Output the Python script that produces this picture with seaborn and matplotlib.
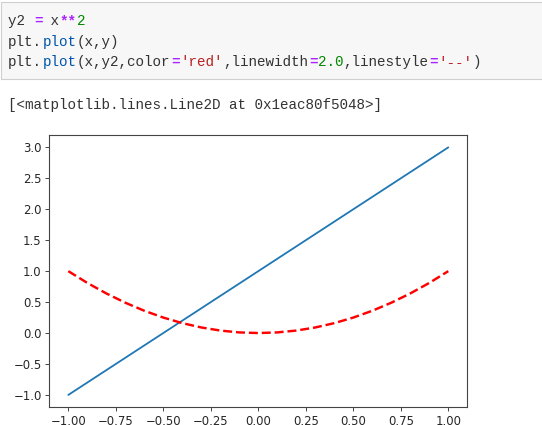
import matplotlib
matplotlib.use("Agg")
import matplotlib.pyplot as plt
import seaborn as sns
from matplotlib.patches import Rectangle

# ---- data ----
x_line = [-1.0, 1.0]
y_line = [-1.0, 3.0]

x_curve = [-1.0, -0.9, -0.8, -0.7, -0.6, -0.5, -0.4, -0.3, -0.2, -0.1, 0.0,
           0.1, 0.2, 0.3, 0.4, 0.5, 0.6, 0.7, 0.8, 0.9, 1.0]
y_curve = [1.0, 0.81, 0.64, 0.49, 0.36, 0.25, 0.16, 0.09, 0.04, 0.01, 0.0,
           0.01, 0.04, 0.09, 0.16, 0.25, 0.36, 0.49, 0.64, 0.81, 1.0]

x_ticks = [-1.00, -0.75, -0.50, -0.25, 0.00, 0.25, 0.50, 0.75, 1.00]
y_ticks = [-1.0, -0.5, 0.0, 0.5, 1.0, 1.5, 2.0, 2.5, 3.0]

code_lines = [
    [("y2 ", "#333333"), ("=", "#AA22FF"), (" x", "#333333"), ("**", "#AA22FF"), ("2", "#008800")],
    [("plt.", "#333333"), ("plot", "#0055AA"), ("(x,y)", "#333333")],
    [("plt.", "#333333"), ("plot", "#0055AA"), ("(x,y2,color", "#333333"), ("=", "#AA22FF"),
     ("'red'", "#BA2121"), (",linewidth", "#333333"), ("=", "#AA22FF"), ("2.0", "#008800"),
     (",linestyle", "#333333"), ("=", "#AA22FF"), ("'--'", "#BA2121"), (")", "#333333")],
]
output_text = "[<matplotlib.lines.Line2D at 0x1eac80f5048>]"

# ---- figure ----
sns.set_style("ticks")
W, H = 542, 425
fig = plt.figure(figsize=(W / 100, H / 100), dpi=100)
fig.patch.set_facecolor("white")

# code cell background
fig.patches.append(Rectangle((1 / W, 1 - 79 / H), 560 / W, 76.5 / H, transform=fig.transFigure,
                             facecolor="#F7F7F7", edgecolor="#CFCFCF", linewidth=0.8, zorder=0))

cw = 8.6
baselines = [25.0, 45.7, 65.7]
for line, base in zip(code_lines, baselines):
    col = 0
    for tok, c in line:
        fig.text((8 + col * cw) / W, 1 - base / H, tok, color=c, family="Liberation Mono",
                 fontsize=10.3, va="baseline", ha="left",
                 fontweight="bold" if c == "#AA22FF" else "normal")
        col += len(tok)
fig.text(8 / W, 1 - 109 / H, output_text, color="#333333", family="Liberation Mono",
         fontsize=10.3, va="baseline", ha="left")

ax = fig.add_axes([49.3 / W, 17.7 / H, 418 / W, 272.3 / H])
sns.lineplot(x=x_line, y=y_line, ax=ax, color="#1f77b4", linewidth=1.3, sort=False)
sns.lineplot(x=x_curve, y=y_curve, ax=ax, color="red", linewidth=1.75, linestyle="--", sort=False)

ax.set_xlim(-1.1, 1.1)
ax.set_ylim(-1.2, 3.2)
ax.set_xticks(x_ticks)
ax.set_xticklabels([f"{v:.2f}".replace("-", "\u2212") for v in x_ticks])
ax.set_yticks(y_ticks)
ax.set_yticklabels([f"{v:.1f}".replace("-", "\u2212") for v in y_ticks])
for s in ax.spines.values():
    s.set_visible(True)
    s.set_linewidth(0.8)
    s.set_color("#444444")
ax.tick_params(labelsize=8.4, length=3, width=0.7, color="#444444", labelcolor="#262626", pad=2.5)
ax.set_facecolor("white")

fig.savefig("out.png", dpi=100)
